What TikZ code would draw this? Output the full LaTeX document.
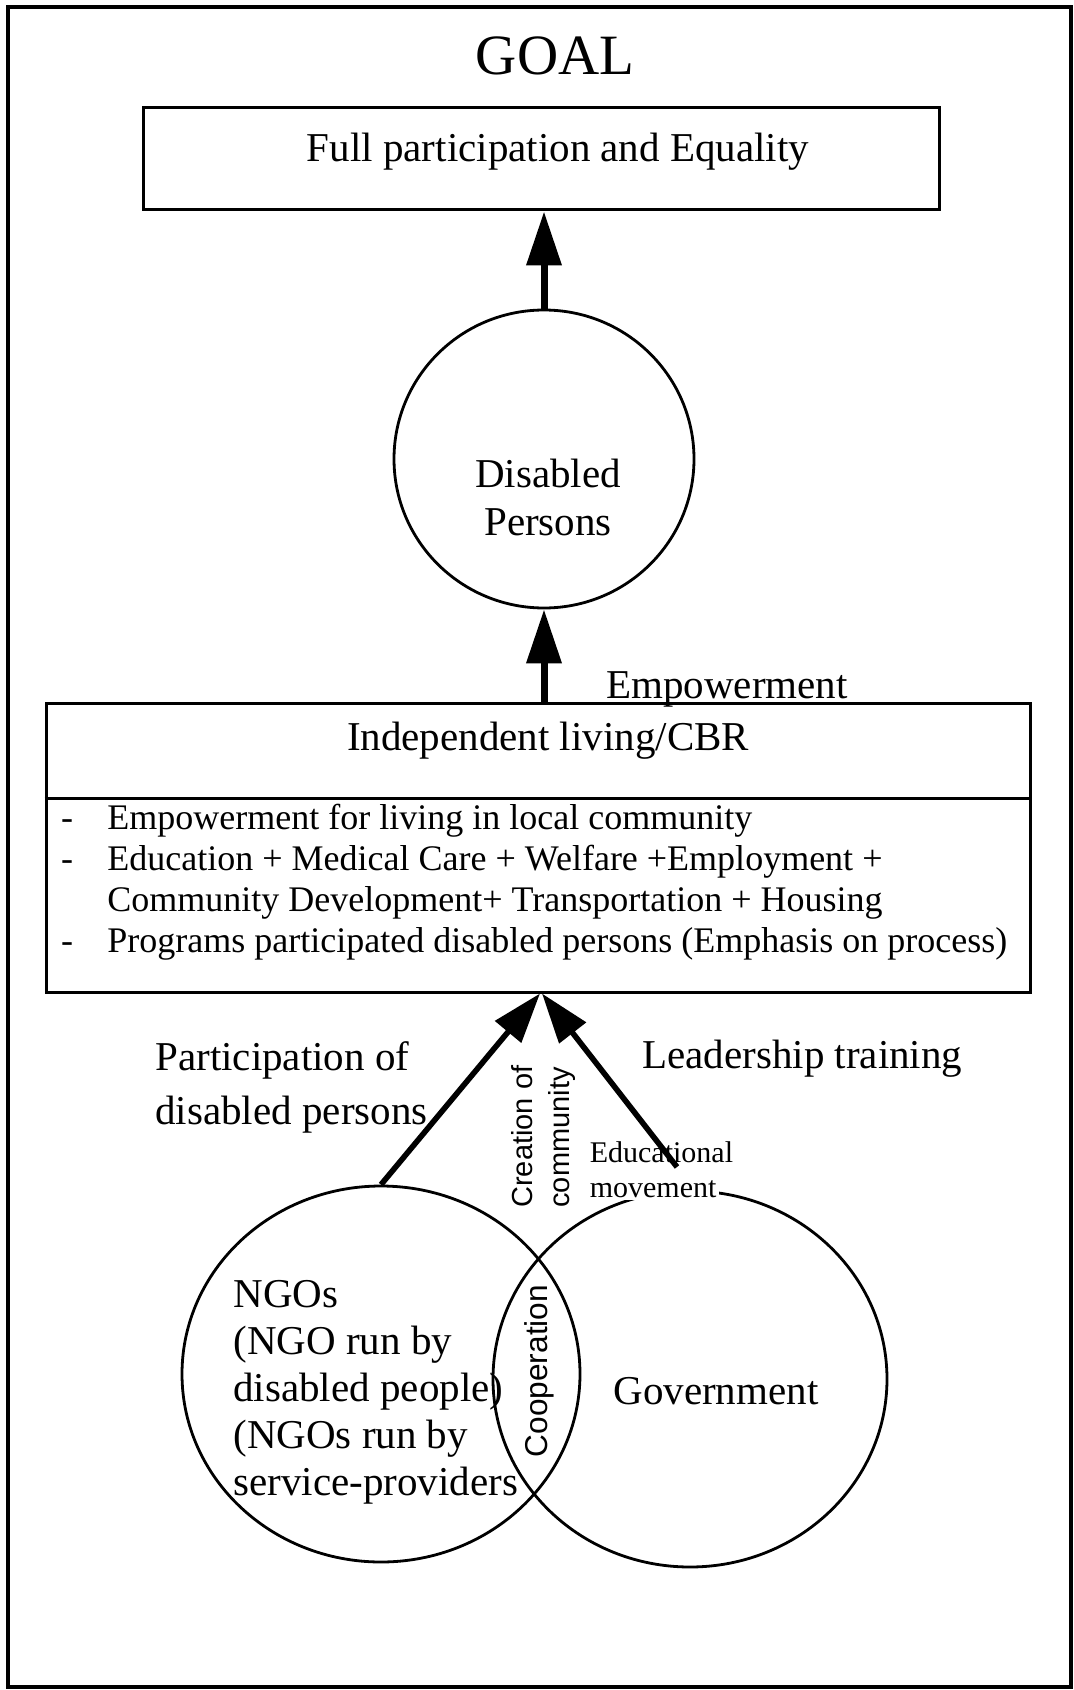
\documentclass[tikz,border=0pt]{standalone}
\usepackage{fontspec}
\setmainfont{Liberation Serif}
\setsansfont{Liberation Sans}
\usetikzlibrary{arrows.meta,shapes.geometric}

\newcommand\fsz[2]{\fontsize{#1}{#2}\selectfont}

\begin{document}
\begin{tikzpicture}[x=0.5pt,y=-0.5pt,
  frame/.style={line width=2pt},
  boxline/.style={draw, line width=1.5pt, inner sep=0pt},
  ring/.style={draw, ellipse, line width=1.4pt, inner sep=0pt},
  bigarrow/.style={line width=3.5pt, -{Triangle[length=27pt,width=17pt]}},
  slantarrow/.style={line width=2.8pt, -{Triangle[length=25pt,width=16.5pt]}},
  txt/.style={inner sep=0pt, font=\fsz{20.5pt}{24pt}},
  listtxt/.style={inner sep=0pt, font=\fsz{18pt}{20.5pt}, anchor=base west},
  smalltxt/.style={inner sep=1.2pt, font=\fsz{15pt}{17.5pt}, anchor=base west, fill=white},
  sidetxt/.style={inner sep=0pt, font=\sffamily\fsz{14.5pt}{20pt}, rotate=90, anchor=west},
]
\useasboundingbox (0,0) rectangle (1074,1690);

% outer frame
\draw[frame] (8,7) rectangle (1071,1687);

% heading and goal box
\node[inner sep=0pt, font=\fsz{28.5pt}{32pt}, anchor=base] (goaltitle) at (555,75) {GOAL};
\node[boxline, minimum width=398pt, minimum height=51pt] (goalbox) at (541,159) {};
\node[txt, anchor=base] (goaltext) at (558,162) {Full participation and Equality};

% disabled persons circle
\node[ring, minimum width=150pt, minimum height=149pt] (dp) at (544,459) {};
\node[txt, anchor=base] (dp1) at (548,487) {Disabled};
\node[txt, anchor=base] (dp2) at (548,535) {Persons};

% independent living / CBR box
\node[boxline, minimum width=492pt, minimum height=144.5pt] (il) at (538,847.5) {};
\draw[line width=1.5pt] (il.west |- 0,798) -- (il.east |- 0,798);
\node[txt, anchor=base] (iltitle) at (548,750) {Independent living/CBR};
\node[txt, anchor=base west] (emp) at (606,698) {Empowerment};

\node[listtxt, anchor=base] (d1) at (67,829) {-};
\node[listtxt, anchor=base] (d2) at (67,870) {-};
\node[listtxt, anchor=base] (d4) at (67,952) {-};
\node[listtxt] (l1) at (107,829) {Empowerment for living in local community};
\node[listtxt] (l2) at (107,870) {Education + Medical Care + Welfare +Employment +};
\node[listtxt] (l3) at (107,911) {Community Development+ Transportation + Housing};
\node[listtxt] (l4) at (107,952) {Programs participated disabled persons (Emphasis on process)};

% NGOs and government
\node[ring, minimum width=199pt, minimum height=188pt] (ngo) at (381,1374) {};
\node[ring, minimum width=197pt, minimum height=188pt] (gov) at (690,1379) {};

\node[txt, anchor=base west] (n1) at (233,1307) {NGOs};
\node[txt, anchor=base west] (n2) at (233,1354) {(NGO run by};
\node[txt, anchor=base west] (n3) at (233,1401) {disabled people)};
\node[txt, anchor=base west] (n4) at (233,1448) {(NGOs run by};
\node[txt, anchor=base west] (n5) at (233,1495) {service-providers};
\node[txt, anchor=base] (govtext) at (716,1404) {Government};
\node[inner sep=0pt, font=\sffamily\fsz{15.8pt}{18pt}, rotate=90] (coop) at (539,1371) {Cooperation};

% labels around the lower arrows
\node[txt, anchor=base west] (p1) at (155,1070) {Participation of};
\node[txt, anchor=base west] (p2) at (155,1124) {disabled persons};
\node[txt, anchor=base west] (lead) at (642,1068) {Leadership training};
\node[sidetxt] (cr1) at (522,1208) {Creation of};
\node[sidetxt] (cr2) at (562,1208) {community};
\node[smalltxt] (ed1) at (587,1162) {Educational};
\node[smalltxt] (ed2) at (587,1197) {movement};

% connectors
\coordinate (edstart) at (677,1167);
\draw[bigarrow] (dp.north) -- (dp.north |- goalbox.south);
\draw[bigarrow] (dp.south |- il.north) -- (dp.south);
\draw[slantarrow] (ngo.north) -- ([xshift=1pt]il.south);
\draw[slantarrow] (edstart) -- ([xshift=2pt]il.south);
\end{tikzpicture}
\end{document}
